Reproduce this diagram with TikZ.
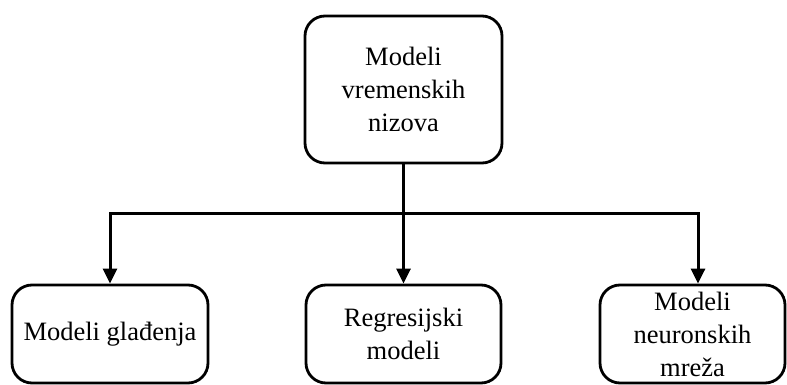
\documentclass[tikz,border=0pt]{standalone}
\usepackage{fontspec}
\setmainfont{Liberation Serif}
\usetikzlibrary{arrows.meta}
\begin{document}
\begin{tikzpicture}[x=1pt,y=-1pt,
  box/.style={draw,line width=2.8pt,rounded corners=20pt,align=center,
    font=\fontsize{26.5}{33}\selectfont,inner sep=0pt},
  link/.style={line width=3pt},
  arr/.style={line width=3pt,-{Triangle[width=14pt,length=15pt]}}]
\useasboundingbox (0,0) rectangle (787,385);
\node[box,minimum width=197pt,minimum height=147pt] (top) at (403.5,89.5) {Modeli\\vremenskih\\nizova};
\node[box,minimum width=196pt,minimum height=98pt] (left) at (110,334) {Modeli gla\dj enja};
\node[box,minimum width=195pt,minimum height=98pt] (mid) at (403.5,334) {Regresijski\\modeli};
\node[box,minimum width=185pt,minimum height=98pt] (right) at (692.5,334) {Modeli\\neuronskih\\mreža};
\coordinate (j) at (403.5,213);
\draw[link] (top.south) -- (j);
\draw[arr] (j) -| (left.north);
\draw[arr] (j) -| ([xshift=5.5pt]right.north);
\draw[arr] (j) -- (mid.north);
\end{tikzpicture}
\end{document}
